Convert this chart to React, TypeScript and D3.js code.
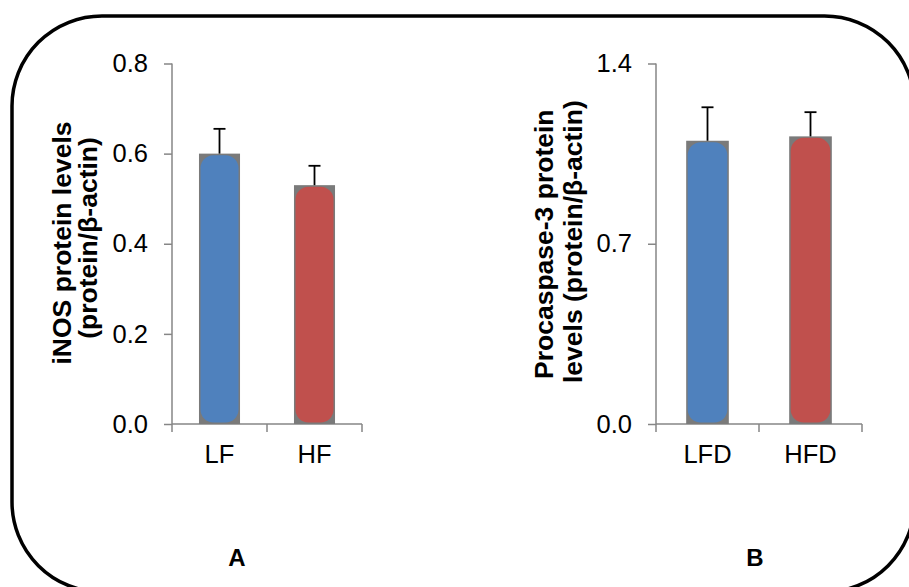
import React, { useEffect, useRef } from 'react';
import * as d3 from 'd3';

// panel A data
const catsA = ['LF', 'HF'];
const valsA = [0.6, 0.53];
const errA = [0.055, 0.043];
const ticksA = [0, 0.2, 0.4, 0.6, 0.8];

// panel B data
const catsB = ['LFD', 'HFD'];
const valsB = [1.1, 1.117];
const errB = [0.13, 0.094];
const ticksB = [0, 0.7, 1.4];

const barColors = ['#4F81BD', '#C0504D'];
const FONT = 'Liberation Sans, Arial, sans-serif';
const AXIS = '#868686';

type PanelProps = {
  cats: string[];
  vals: number[];
  errs: number[];
  ticks: number[];
  x0: number;
  x1: number;
  pad: number;
};

const Panel = ({ cats, vals, errs, ticks, x0, x1, pad }: PanelProps) => {
  const gRef = useRef<SVGGElement>(null);

  useEffect(() => {
    const g = d3.select(gRef.current);
    g.selectAll('*').remove();

    const yScale = d3
      .scaleLinear()
      .domain([0, ticks[ticks.length - 1]])
      .range([424, 63.5]);

    const xScale = d3
      .scaleBand()
      .domain(cats)
      .range([x0, x1])
      .paddingInner(pad)
      .paddingOuter(pad / 2);

    // y axis
    const yAxis = d3
      .axisLeft(yScale)
      .tickValues(ticks)
      .tickSize(8)
      .tickPadding(16)
      .tickFormat(d3.format('.1f'));
    const ya = g.append('g').attr('transform', `translate(${x0},0)`).call(yAxis);
    ya.select('.domain').attr('stroke', AXIS).attr('stroke-width', 1.5).attr('d', `M0,${yScale(0)}V${yScale(ticks[ticks.length - 1])}`);
    ya.selectAll('.tick line').attr('stroke', AXIS).attr('stroke-width', 1.5);
    ya.selectAll('.tick text').attr('font-family', FONT).attr('font-size', 25.5).attr('fill', '#000');

    // x axis line + boundary ticks
    const step = xScale.step();
    const bounds = d3.range(cats.length + 1).map((i) => x0 + i * step);
    g.append('line')
      .attr('x1', x0)
      .attr('x2', x1)
      .attr('y1', yScale(0))
      .attr('y2', yScale(0))
      .attr('stroke', AXIS)
      .attr('stroke-width', 1.5);
    g.selectAll('.xt')
      .data(bounds)
      .join('line')
      .attr('class', 'xt')
      .attr('x1', (d) => d)
      .attr('x2', (d) => d)
      .attr('y1', yScale(0))
      .attr('y2', yScale(0) + 8)
      .attr('stroke', AXIS)
      .attr('stroke-width', 1.5);

    // category labels
    g.selectAll('.xl')
      .data(cats)
      .join('text')
      .attr('class', 'xl')
      .attr('x', (d) => xScale(d)! + xScale.bandwidth() / 2)
      .attr('y', yScale(0) + 39)
      .attr('text-anchor', 'middle')
      .attr('font-family', FONT)
      .attr('font-size', 25.5)
      .text((d) => d);

    // bars: gray soft-edge backing + rounded coloured body
    const bw = xScale.bandwidth();
    g.selectAll('.bg')
      .data(vals)
      .join('rect')
      .attr('class', 'bg')
      .attr('x', (d, i) => xScale(cats[i])!)
      .attr('y', (d) => yScale(d))
      .attr('width', bw)
      .attr('height', (d) => yScale(0) - yScale(d))
      .attr('fill', '#7a7a7a');
    g.selectAll('.bar')
      .data(vals)
      .join('rect')
      .attr('class', 'bar')
      .attr('x', (d, i) => xScale(cats[i])! + 1.5)
      .attr('y', (d) => yScale(d) + 1.5)
      .attr('width', bw - 3)
      .attr('height', (d) => yScale(0) - yScale(d) - 3)
      .attr('rx', 13)
      .attr('ry', 13)
      .attr('fill', (d, i) => barColors[i]);

    // error bars
    const eb = g.selectAll('.eb').data(vals).join('g').attr('class', 'eb');
    eb.append('line')
      .attr('x1', (d, i) => xScale(cats[i])! + bw / 2)
      .attr('x2', (d, i) => xScale(cats[i])! + bw / 2)
      .attr('y1', (d) => yScale(d))
      .attr('y2', (d, i) => yScale(d + errs[i]))
      .attr('stroke', '#000')
      .attr('stroke-width', 1.8);
    eb.append('line')
      .attr('x1', (d, i) => xScale(cats[i])! + bw / 2 - 6)
      .attr('x2', (d, i) => xScale(cats[i])! + bw / 2 + 6)
      .attr('y1', (d, i) => yScale(d + errs[i]))
      .attr('y2', (d, i) => yScale(d + errs[i]))
      .attr('stroke', '#000')
      .attr('stroke-width', 1.8);
  }, [cats, vals, errs, ticks, x0, x1, pad]);

  return <g ref={gRef} />;
};

const App = () => {
  const title = { fontFamily: FONT, fontSize: 26.5, fontWeight: 'bold' as const };
  return (
    <svg width={909} height={587} style={{ position: 'absolute', left: 0, top: 0, background: '#fff' }}>
      <rect x={12} y={16} width={902.5} height={576} rx={90} ry={90} fill="none" stroke="#000" strokeWidth={3.5} />

      <Panel cats={catsA} vals={valsA} errs={errA} ticks={ticksA} x0={172} x1={362} pad={0.568} />
      <Panel cats={catsB} vals={valsB} errs={errB} ticks={ticksB} x0={656} x1={862} pad={0.586} />

      <text transform="translate(71,243) rotate(-90)" textAnchor="middle" {...title}>iNOS protein levels</text>
      <text transform="translate(97,238) rotate(-90)" textAnchor="middle" {...title}>(protein/β-actin)</text>

      <text transform="translate(553,379) rotate(-90)" textAnchor="start" {...title}>Procaspase-3 protein</text>
      <text transform="translate(582,383) rotate(-90)" textAnchor="start" {...title}>levels (protein/β-actin)</text>

      <text x={237} y={566} textAnchor="middle" fontFamily={FONT} fontSize={24} fontWeight="bold">A</text>
      <text x={755} y={566} textAnchor="middle" fontFamily={FONT} fontSize={24} fontWeight="bold">B</text>
    </svg>
  );
};

export default App;
